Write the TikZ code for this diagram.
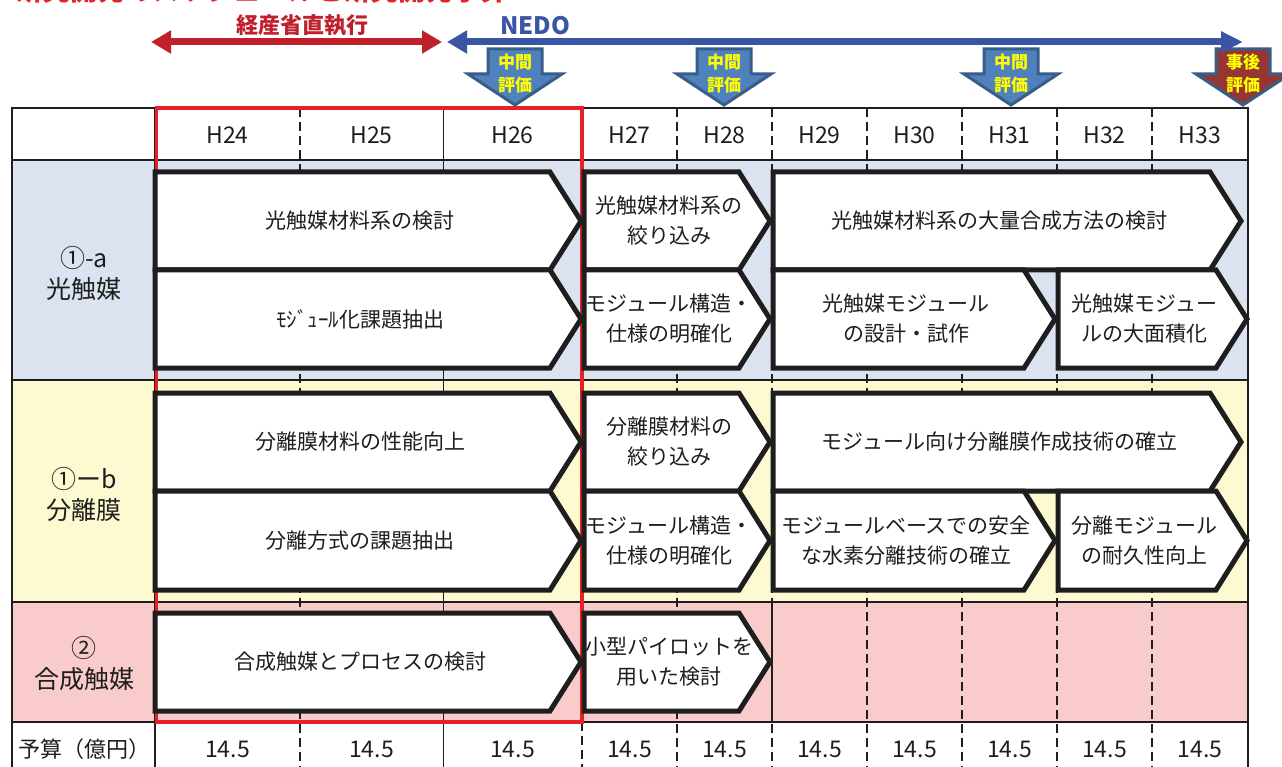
\documentclass[tikz,border=0pt]{standalone}
\usepackage{fontspec}
\setmainfont{Noto Sans CJK JP}
\usetikzlibrary{arrows.meta}
\definecolor{bandblue}{RGB}{219,227,241}
\definecolor{bandyellow}{RGB}{253,249,208}
\definecolor{bandpink}{RGB}{249,203,203}
\definecolor{boxred}{RGB}{232,32,40}
\definecolor{metired}{RGB}{192,32,44}
\definecolor{nedoblue}{RGB}{58,85,164}
\definecolor{evalfill}{RGB}{79,129,189}
\definecolor{evaldraw}{RGB}{56,93,138}
\definecolor{postfill}{RGB}{150,54,52}
\definecolor{evaltext}{RGB}{255,255,0}
\definecolor{ink}{RGB}{30,30,30}
\newcommand{\chevd}{31}
\newcommand{\mychev}[6]{%
  \draw[chev] (#1,#2) -- ({#3-\chevd},#2) -- (#3,{(#2+#4)/2}) -- ({#3-\chevd},#4) -- (#1,#4) -- cycle;
  \node[chevtext] (#5) at ({(#1+#3-\chevd/2)/2},{(#2+#4)/2}) {#6};}
\newcommand{\evalarr}[5]{%
  \draw[evalshape, fill=#2] ({#1-27},49) -- ({#1+27},49) -- ({#1+27},74) -- ({#1+47},74) -- (#1,105) -- ({#1-47},74) -- ({#1-27},74) -- cycle;
  \node[evaltxt] (#5a) at (#1,62) {#3};
  \node[evaltxt] (#5b) at (#1,85) {#4};}
\begin{document}
\begin{tikzpicture}[x=1pt,y=-1pt,
  chev/.style={draw=ink, line width=5pt, fill=white, line join=miter},
  chevtext/.style={font=\fontsize{21}{30}\selectfont, align=center, inner sep=0pt, text=ink},
  evalshape/.style={draw=evaldraw, line width=3pt},
  evaltxt/.style={font=\bfseries\fontsize{17}{17}\selectfont, text=evaltext, inner sep=0pt},
  tableline/.style={draw=ink, line width=2pt},
  gridd/.style={draw=ink, line width=1.6pt, dash pattern=on 9pt off 5pt},
  gridthin/.style={draw=ink, line width=0.8pt},
  redbox/.style={draw=boxred, line width=3.6pt},
  celltext/.style={font=\fontsize{23}{23}\selectfont, text=ink, inner sep=0pt},
  leftlab/.style={font=\fontsize{25}{31}\selectfont, text=ink, align=center, inner sep=0pt}]
\useasboundingbox (0,0) rectangle (1282,767);
\fill[white] (0,0) rectangle (1282,767);
% title (cut by the top edge, as in the reference)
\begin{scope}
\clip (0,0) rectangle (1282,767);
\node[anchor=base west, inner sep=0pt, font=\bfseries\fontsize{27.5}{27.5}\selectfont, text=boxred] (title) at (15,1) {研究開発のスケジュールと研究開発予算};
\end{scope}
% bands
\fill[bandblue] (12,160) rectangle (1248,380);
\fill[bandyellow] (12,380) rectangle (1248,602);
\fill[bandpink] (12,602) rectangle (1248,722);
% grid
\foreach \x in {300,677,772,867,962,1057,1152} \draw[gridd] (\x,108) -- (\x,767);
\draw[gridthin] (443,108) -- (443,767);
\draw[gridd] (582,722) -- (582,767);
\draw[tableline] (772,602) -- (772,722);
\draw[tableline] (155,108) -- (155,767);
\foreach \y in {108,160,380,602,722} \draw[tableline] (12,\y) -- (1248,\y);
\draw[tableline] (12,107) -- (12,767);
\draw[tableline] (1248,107) -- (1248,767);
\draw[redbox] (156.5,108) rectangle (582,722);
% row 1-a
\mychev{155}{172}{581}{270}{a1}{光触媒材料系の検討}
\mychev{155}{270}{581}{368}{a2}{ﾓｼﾞｭｰﾙ化課題抽出}
\mychev{584}{172}{770}{270}{b1}{光触媒材料系の\\絞り込み}
\mychev{584}{270}{770}{368}{b2}{モジュール構造・\\仕様の明確化}
\mychev{773}{172}{1241}{270}{c1}{光触媒材料系の大量合成方法の検討}
\mychev{773}{270}{1055}{368}{c2}{光触媒モジュール\\の設計・試作}
\mychev{1058}{270}{1247}{368}{d2}{光触媒モジュー\\ルの大面積化}
% row 1-b
\mychev{155}{393}{581}{491}{e1}{分離膜材料の性能向上}
\mychev{155}{491}{581}{590}{e2}{分離方式の課題抽出}
\mychev{584}{393}{770}{491}{f1}{分離膜材料の\\絞り込み}
\mychev{584}{491}{770}{590}{f2}{モジュール構造・\\仕様の明確化}
\mychev{773}{393}{1241}{491}{g1}{モジュール向け分離膜作成技術の確立}
\mychev{773}{491}{1055}{590}{g2}{モジュールベースでの安全\\な水素分離技術の確立}
\mychev{1058}{491}{1247}{590}{h2}{分離モジュール\\の耐久性向上}
% row 2
\mychev{155}{613}{581}{711}{i1}{合成触媒とプロセスの検討}
\mychev{584}{613}{770}{711}{j1}{小型パイロットを\\用いた検討}
% header and budget
\foreach \x/\yr in {227.5/24,371.5/25,512.5/26,629.5/27,724.5/28,819.5/29,914.5/30,1009.5/31,1104.5/32,1200/33}{
  \node[celltext] (h\yr) at (\x,135) {H\yr};
  \node[celltext] (b\yr) at (\x,749) {14.5};
}
\node[leftlab] (labA) at (84,273) {①-a\\光触媒};
\node[leftlab] (labB) at (84,494) {①ーb\\分離膜};
\node[leftlab] (labC) at (84,664) {②\\合成触媒};
\node[font=\fontsize{22}{22}\selectfont, text=ink, inner sep=0pt] (labD) at (84,749) {予算（億円）};
% evaluation markers
\evalarr{515}{evalfill}{中間}{評価}{ev1}
\evalarr{724}{evalfill}{中間}{評価}{ev2}
\evalarr{1011}{evalfill}{中間}{評価}{ev3}
\evalarr{1243}{postfill}{事後}{評価}{ev4}
% top arrows
\coordinate (redL) at (151,42);
\coordinate (redR) at (442,42);
\draw[line width=7pt, metired, {Triangle[length=20pt,width=22pt]}-{Triangle[length=20pt,width=22pt]}] (redL) -- (redR);
\coordinate (nedoL) at (447,42);
\coordinate (nedoR) at (1243,42);
\draw[line width=7pt, nedoblue, {Triangle[length=20pt,width=22pt]}-{Triangle[length=22pt,width=20pt]}] (nedoL) -- (nedoR);
\node[font=\bfseries\fontsize{22}{22}\selectfont, text=metired, inner sep=0pt] (meti) at (302,25) {経産省直執行};
\node[font=\bfseries\fontsize{24}{24}\selectfont, text=nedoblue, inner sep=0pt] (nedo) at (535,26) {NEDO};
\end{tikzpicture}
\end{document}
